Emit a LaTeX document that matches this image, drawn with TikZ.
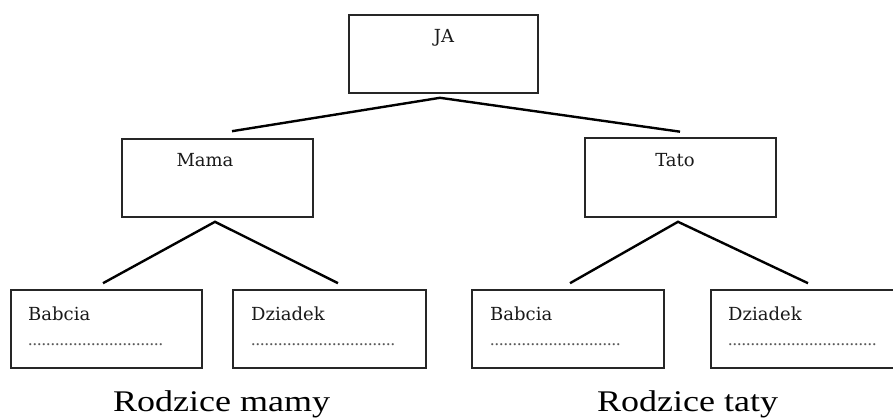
\documentclass[tikz,border=0pt]{standalone}
\usepackage{graphicx}
\usepackage{fontspec}
\setmainfont{Liberation Serif}
\newfontfamily\smallserif{DejaVu Serif}
\usetikzlibrary{calc}
\begin{document}
\begin{tikzpicture}[x=1pt,y=-1pt,
  box/.style={draw=black!85, line width=1.6pt, rectangle, inner sep=0pt},
  conn/.style={draw=black, line width=2.4pt},
  lbl/.style={font=\smallserif\fontsize{18}{18}\selectfont, inner sep=0pt, text=black!90},
  dotrow/.style={font=\fontsize{18}{18}\selectfont, inner sep=0pt, text=black!65, anchor=base west},
  big/.style={font=\fontsize{30}{30}\selectfont, inner sep=0pt, anchor=base}]
\useasboundingbox (0,0) rectangle (893,419);
\clip (0,0) rectangle (893,419);
% boxes
\node[box, minimum width=189pt, minimum height=78pt] (ja) at (443.5,54) {};
\node[box, minimum width=191pt, minimum height=78pt] (mama) at (217.5,178) {};
\node[box, minimum width=191pt, minimum height=79pt] (tato) at (680.5,177.5) {};
\node[box, minimum width=191pt, minimum height=78pt] (babciaL) at (106.5,329) {};
\node[box, minimum width=193pt, minimum height=78pt] (dziadekL) at (329.5,329) {};
\node[box, minimum width=192pt, minimum height=78pt] (babciaR) at (568,329) {};
\node[box, minimum width=192pt, minimum height=78pt] (dziadekR) at (807,329) {};
% labels
\node[lbl, anchor=base] (tja) at (444,43) {JA};
\node[lbl, anchor=base] (tmama) at (205,167) {Mama};
\node[lbl, anchor=base] (ttato) at (675,167) {Tato};
\node[lbl, anchor=base west] (tbL) at (28,320) {Babcia};
\node[lbl, anchor=base west] (tdL) at (251,320) {Dziadek};
\node[lbl, anchor=base west] (tbR) at (490,320) {Babcia};
\node[lbl, anchor=base west] (tdR) at (728,320) {Dziadek};
\node[dotrow] (dbL) at (28,345) {..............................};
\node[dotrow] (ddL) at (251,345) {................................};
\node[dotrow] (dbR) at (490,345) {.............................};
\node[dotrow] (ddR) at (728,345) {.................................};
\node[big] (rm) at (221.5,411) {\scalebox{1.2}[1]{Rodzice mamy}};
\node[big] (rt) at (687.5,411) {\scalebox{1.2}[1]{Rodzice taty}};
% connector points
\coordinate (jaA) at ($(ja.south)+(-3.5,4)$);
\coordinate (mamaT) at ($(mama.north)+(14.5,-7)$);
\coordinate (tatoT) at ($(tato.north)+(-0.5,-5.5)$);
\coordinate (mamaA) at ($(mama.south)+(-2.5,4)$);
\coordinate (tatoA) at ($(tato.south)+(-2.5,4)$);
\coordinate (bLT) at ($(babciaL.north)+(-3.5,-6)$);
\coordinate (dLT) at ($(dziadekL.north)+(8.5,-6)$);
\coordinate (bRT) at ($(babciaR.north)+(2,-6)$);
\coordinate (dRT) at ($(dziadekR.north)+(1,-6)$);
% connectors
\draw[conn] (mamaT) -- (jaA) -- (tatoT);
\draw[conn] (bLT) -- (mamaA) -- (dLT);
\draw[conn] (bRT) -- (tatoA) -- (dRT);
\end{tikzpicture}
\end{document}
